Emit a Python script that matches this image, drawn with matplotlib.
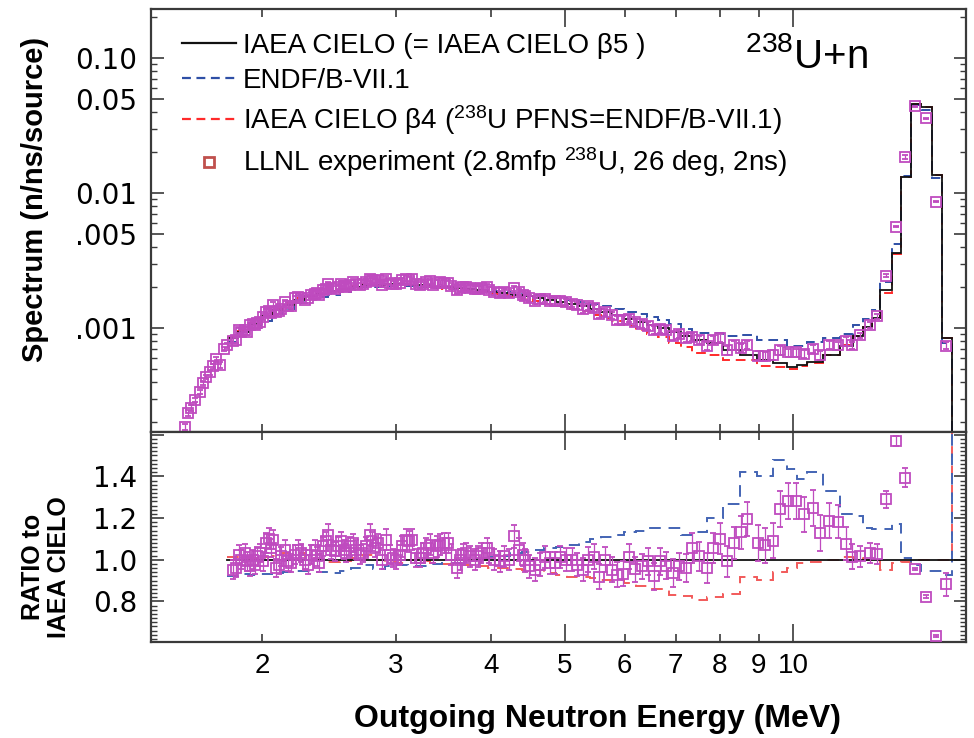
import numpy as np
import matplotlib
matplotlib.use('Agg')
import matplotlib.pyplot as plt
from matplotlib.ticker import FixedLocator, FuncFormatter, MultipleLocator, LogLocator, NullFormatter
from matplotlib.lines import Line2D

plt.rcParams['font.family'] = ['Liberation Sans', 'DejaVu Sans']
plt.rcParams['mathtext.fontset'] = 'custom'
plt.rcParams['mathtext.rm'] = 'Liberation Sans'
plt.rcParams['mathtext.it'] = 'Liberation Sans:italic'
plt.rcParams['mathtext.bf'] = 'Liberation Sans:bold'

# model histogram bin edges (MeV)
edges = [1.80, 1.86, 1.92, 1.99, 2.06, 2.13, 2.20, 2.28, 2.36, 2.44,
         2.53, 2.62, 2.71, 2.80, 2.90, 3.00, 3.11, 3.22, 3.33, 3.45,
         3.57, 3.69, 3.82, 3.96, 4.10, 4.24, 4.39, 4.54, 4.70, 4.87,
         5.04, 5.22, 5.40, 5.59, 5.78, 5.99, 6.20, 6.41, 6.64, 6.87,
         7.11, 7.36, 7.69, 8.08, 8.51, 8.96, 9.40, 9.81, 10.11, 10.42,
         10.94, 11.52, 11.98, 12.35, 12.69, 13.00, 13.48, 13.86, 14.28, 14.72,
         15.22, 15.69, 16.17]

# IAEA CIELO spectrum (n/ns/source)
cielo = [8.5e-4, 9.4e-4, 1.08e-3, 1.22e-3, 1.36e-3, 1.48e-3, 1.62e-3, 1.72e-3, 1.80e-3, 1.88e-3,
         1.96e-3, 2.02e-3, 2.07e-3, 2.10e-3, 2.12e-3, 2.12e-3, 2.10e-3, 2.07e-3, 2.03e-3, 2.00e-3,
         1.98e-3, 1.95e-3, 1.91e-3, 1.86e-3, 1.82e-3, 1.77e-3, 1.72e-3, 1.67e-3, 1.62e-3, 1.57e-3,
         1.51e-3, 1.45e-3, 1.38e-3, 1.31e-3, 1.24e-3, 1.16e-3, 1.11e-3, 1.05e-3, 1.00e-3, 9.4e-4,
         8.8e-4, 8.1e-4, 7.7e-4, 6.9e-4, 6.3e-4, 5.8e-4, 5.5e-4, 5.15e-4, 5.3e-4, 5.6e-4,
         6.3e-4, 7.4e-4, 8.7e-4, 1.02e-3, 1.19e-3, 1.9e-3, 3.6e-3, 1.32e-2, 4.6e-2, 4.35e-2,
         1.36e-2, 8.4e-4]

# ENDF/B-VII.1 / CIELO
ratio_endf = [0.923, 0.930, 0.925, 0.930, 0.935, 0.942, 0.947, 0.947, 0.940, 0.935,
              0.945, 0.960, 0.975, 0.955, 0.968, 0.975, 0.970, 0.972, 0.978, 0.985,
              0.986, 0.995, 1.005, 1.015, 1.020, 1.030, 1.035, 1.045, 1.055, 1.063,
              1.072, 1.085, 1.100, 1.110, 1.120, 1.135, 1.140, 1.150, 1.150, 1.150,
              1.120, 1.135, 1.200, 1.265, 1.420, 1.400, 1.480, 1.434, 1.385, 1.420,
              1.330, 1.217, 1.209, 1.150, 1.148, 1.148, 1.169, 1.008, 0.976, 0.947,
              0.944, 0.928]

# CIELO beta4 / CIELO
ratio_b4 = [1.014, 1.014, 1.010, 1.014, 1.020, 1.030, 1.030, 1.010, 1.000, 0.990,
            0.995, 1.010, 1.024, 1.000, 0.990, 0.986, 1.000, 0.995, 0.986, 0.980,
            0.976, 0.976, 0.970, 0.960, 0.960, 0.955, 0.952, 0.952, 0.935, 0.928,
            0.918, 0.918, 0.910, 0.904, 0.904, 0.890, 0.875, 0.860, 0.860, 0.830,
            0.827, 0.807, 0.820, 0.835, 0.918, 0.904, 0.942, 0.960, 0.986, 0.990,
            1.000, 1.014, 1.010, 1.000, 1.000, 0.952, 0.985, 0.990, 1.000, 1.000,
            1.000, 1.000]

# LLNL experiment below the model range (top panel only)
low_e = [1.581, 1.597, 1.614, 1.630, 1.655, 1.672, 1.689, 1.706, 1.723, 1.741, 1.758, 1.780, 1.800]
low_s = [1.85e-4, 2.35e-4, 2.55e-4, 2.93e-4, 3.36e-4, 3.92e-4, 4.34e-4, 4.72e-4, 5.23e-4, 5.89e-4,
         5.3e-4, 6.99e-4, 7.48e-4]
low_err = [0.05, 0.05, 0.05, 0.04, 0.04, 0.04, 0.04, 0.04, 0.04, 0.04, 0.05, 0.04, 0.04]

# LLNL experiment: energy, ratio to CIELO, ratio uncertainty
exp_e = [1.830, 1.850, 1.865, 1.878, 1.897, 1.910, 1.925, 1.945, 1.956, 1.966,
         1.985, 2.005, 2.026, 2.042, 2.057, 2.067, 2.088, 2.105, 2.120, 2.141,
         2.163, 2.185, 2.207, 2.230, 2.253, 2.275, 2.298, 2.322, 2.346, 2.362,
         2.376, 2.405, 2.430, 2.442, 2.467, 2.492, 2.517, 2.543, 2.561, 2.582,
         2.608, 2.634, 2.661, 2.688, 2.715, 2.743, 2.770, 2.793, 2.813, 2.841,
         2.879, 2.914, 2.943, 2.973, 3.004, 3.034, 3.059, 3.090, 3.121, 3.153,
         3.192, 3.224, 3.256, 3.289, 3.322, 3.356, 3.397, 3.432, 3.467, 3.512,
         3.549, 3.604, 3.639, 3.676, 3.713, 3.759, 3.808, 3.847, 3.887, 3.947,
         3.976, 4.037, 4.109, 4.159, 4.227, 4.288, 4.357, 4.403, 4.433, 4.492,
         4.570, 4.640, 4.711, 4.783, 4.856, 4.930, 5.020, 5.108, 5.195, 5.281,
         5.371, 5.464, 5.554, 5.648, 5.767, 5.868, 5.970, 6.081, 6.187, 6.314,
         6.441, 6.553, 6.674, 6.796, 6.935, 7.076, 7.221, 7.362, 7.519, 7.690,
         7.845, 8.002, 8.166, 8.349, 8.531, 8.695, 8.976, 9.167, 9.393, 9.610,
         9.843, 10.09, 10.32, 10.60, 10.85, 11.14, 11.43, 11.73, 11.95, 12.25,
         12.60, 12.90, 13.24, 13.65, 14.03, 14.46, 14.95, 15.41, 15.88]
exp_ratio = [0.952, 0.960, 1.024, 1.000, 1.032, 0.992, 0.968, 1.000, 0.976, 1.016,
             1.032, 0.992, 1.080, 1.100, 1.056, 1.096, 0.960, 0.976, 1.016, 1.048,
             0.992, 0.984, 1.024, 1.048, 1.032, 1.000, 0.976, 1.024, 1.048, 1.016,
             0.984, 1.064, 1.088, 1.120, 1.048, 1.040, 1.064, 1.088, 1.048, 1.032,
             1.064, 1.080, 1.048, 1.024, 1.032, 1.064, 1.120, 1.088, 1.056, 1.080,
             1.000, 1.096, 1.024, 1.008, 1.000, 1.024, 1.064, 1.096, 1.088, 1.096,
             1.008, 1.008, 1.032, 1.056, 1.072, 1.032, 1.064, 1.072, 1.080, 1.080,
             1.024, 0.960, 1.000, 1.024, 1.032, 1.016, 1.000, 1.016, 1.032, 1.056,
             1.032, 1.000, 0.992, 1.016, 1.000, 1.112, 1.048, 1.024, 0.997, 0.968,
             0.952, 0.976, 1.013, 0.984, 0.984, 1.013, 1.000, 1.000, 0.976, 0.952,
             1.000, 1.013, 0.917, 1.000, 0.952, 0.928, 0.932, 1.013, 0.955, 0.968,
             0.992, 0.920, 0.992, 0.971, 0.936, 0.968, 0.960, 1.056, 1.016, 0.960,
             1.056, 1.100, 0.992, 1.080, 1.132, 1.196, 1.080, 1.069, 1.092, 1.244,
             1.281, 1.281, 1.217, 1.249, 1.129, 1.188, 1.182, 1.077, 1.013, 1.016,
             1.032, 1.027, 1.289, 1.570, 1.394, 0.955, 0.823, 0.634, 0.883]
exp_err = [0.045, 0.045, 0.045, 0.045, 0.045, 0.045, 0.045, 0.045, 0.045, 0.045,
           0.045, 0.045, 0.050, 0.050, 0.045, 0.045, 0.045, 0.045, 0.045, 0.045,
           0.045, 0.045, 0.045, 0.045, 0.045, 0.045, 0.045, 0.045, 0.045, 0.045,
           0.045, 0.045, 0.045, 0.050, 0.045, 0.045, 0.045, 0.045, 0.045, 0.045,
           0.045, 0.045, 0.045, 0.045, 0.045, 0.045, 0.050, 0.045, 0.045, 0.045,
           0.045, 0.050, 0.045, 0.045, 0.045, 0.045, 0.050, 0.050, 0.050, 0.050,
           0.045, 0.045, 0.050, 0.050, 0.050, 0.050, 0.050, 0.050, 0.050, 0.050,
           0.050, 0.050, 0.050, 0.050, 0.050, 0.050, 0.050, 0.050, 0.050, 0.050,
           0.050, 0.050, 0.050, 0.050, 0.050, 0.055, 0.055, 0.055, 0.055, 0.055,
           0.055, 0.055, 0.055, 0.055, 0.055, 0.055, 0.055, 0.055, 0.055, 0.055,
           0.060, 0.060, 0.060, 0.060, 0.060, 0.060, 0.060, 0.060, 0.060, 0.060,
           0.065, 0.065, 0.065, 0.065, 0.065, 0.065, 0.065, 0.070, 0.070, 0.070,
           0.070, 0.075, 0.075, 0.075, 0.080, 0.080, 0.085, 0.085, 0.085, 0.085,
           0.085, 0.085, 0.085, 0.085, 0.085, 0.085, 0.080, 0.080, 0.060, 0.050,
           0.050, 0.050, 0.040, 0.025, 0.045, 0.006, 0.006, 0.006, 0.055]

c_black = '#111111'
c_blue = '#2E4FA6'
c_red = '#FF2A2A'
c_exp = '#BF4BBF'
c_frame = '#3A3A3A'

edges = np.array(edges)
cielo = np.array(cielo)
endf = cielo * np.array(ratio_endf)
beta4 = cielo * np.array(ratio_b4)

idx = np.searchsorted(edges, exp_e, side='right') - 1
exp_top = cielo[idx] * np.array(exp_ratio)
top_e = np.concatenate([low_e, exp_e])
top_s = np.concatenate([low_s, exp_top])
top_err = top_s * np.concatenate([low_err, np.array(exp_err) / np.array(exp_ratio)])

fig = plt.figure(figsize=(9.74, 7.38), dpi=100)
ax1 = fig.add_axes([0.1550, 0.4146, 0.8368, 0.5732])
ax2 = fig.add_axes([0.1550, 0.1301, 0.8368, 0.2846], sharex=ax1)

# top panel: spectra
e_ext = np.append(edges, 16.9)
ax1.stairs(np.append(beta4, 1e-9), e_ext, baseline=None, color=c_red, lw=1.4, ls=(0, (5, 3)), zorder=2)
ax1.stairs(np.append(endf, 1e-9), e_ext, baseline=None, color=c_blue, lw=1.4, ls=(0, (5, 3)), zorder=2)
ax1.stairs(np.append(cielo, 1e-9), e_ext, baseline=None, color=c_black, lw=1.3, zorder=3)
ax1.errorbar(top_e, top_s, yerr=top_err, fmt='s', ms=6.5, mfc='none', mec=c_exp, mew=1.3,
             ecolor=c_exp, elinewidth=0.9, capsize=2, zorder=4)

ax1.set_xscale('log')
ax1.set_yscale('log')
ax1.set_xlim(1.428, 16.87)
ax1.set_ylim(1.70e-4, 0.2306)

ax1.yaxis.set_major_locator(FixedLocator([1e-3, 5e-3, 1e-2, 5e-2, 1e-1]))
ax1.yaxis.set_major_formatter(FuncFormatter(
    lambda y, p: {1e-3: '.001', 5e-3: '.005', 1e-2: '0.01', 5e-2: '0.05', 1e-1: '0.10'}.get(round(y, 6), '')))
ax1.yaxis.set_minor_locator(LogLocator(base=10, subs=np.arange(2, 10), numticks=20))
ax1.yaxis.set_minor_formatter(NullFormatter())

# bottom panel: ratios
ax2.stairs(np.append(ratio_b4, 3.0), e_ext, baseline=None, color='#F25A5A', lw=1.4, ls=(0, (6, 4)), zorder=2)
ax2.stairs(np.append(ratio_endf, 3.0), e_ext, baseline=None, color='#4364B4', lw=1.4, ls=(0, (6, 4)), zorder=2)
ax2.plot([edges[0], 16.87], [1.0, 1.0], color=c_black, lw=1.3, zorder=3)
ax2.errorbar(exp_e, exp_ratio, yerr=exp_err, fmt='s', ms=6.5, mfc='none', mec=c_exp, mew=1.3,
             ecolor=c_exp, elinewidth=0.9, capsize=2, zorder=4)
ax2.set_ylim(0.605, 1.613)
ax2.yaxis.set_major_locator(FixedLocator([0.8, 1.0, 1.2, 1.4, 1.6]))
ax2.yaxis.set_major_formatter(FuncFormatter(lambda y, p: '' if y > 1.5 else f'{y:.1f}'))
ax2.yaxis.set_minor_locator(MultipleLocator(0.02))

# x ticks: long at 5 and 10
ax2.xaxis.set_major_locator(FixedLocator([5, 10]))
ax2.xaxis.set_minor_locator(FixedLocator([2, 3, 4, 6, 7, 8, 9]))
ax2.xaxis.set_major_formatter(FuncFormatter(lambda x, p: f'{x:g}'))
ax2.xaxis.set_minor_formatter(FuncFormatter(lambda x, p: f'{x:g}'))

for ax in (ax1, ax2):
    for sp in ax.spines.values():
        sp.set_color(c_frame)
        sp.set_linewidth(1.6)
    ax.tick_params(which='both', direction='in', top=True, right=True, color=c_frame)
    ax.tick_params(axis='x', which='major', length=13, width=1.2)
    ax.tick_params(axis='x', which='minor', length=6, width=1.2)
    ax.tick_params(axis='y', which='major', length=9, width=1.2, labelsize=20, pad=10)
    ax.tick_params(axis='y', which='minor', length=4.5, width=1.0)
    for lab in ax.get_yticklabels():
        lab.set_fontfamily('DejaVu Sans')

ax1.tick_params(axis='x', which='both', labelbottom=False)
ax2.tick_params(axis='x', which='both', labelsize=20, pad=8)

# legend
handles = [Line2D([], [], color=c_black, lw=1.6),
           Line2D([], [], color=c_blue, lw=1.6, ls=(0, (4, 2.5))),
           Line2D([], [], color=c_red, lw=1.6, ls=(0, (4, 2.5))),
           Line2D([], [], ls='none', marker='s', ms=7, mfc='none', mec='#C0504D', mew=2)]
labels = ['IAEA CIELO (= IAEA CIELO \u03b25 )',
          'ENDF/B-VII.1',
          'IAEA CIELO \u03b24 ($^{238}$U PFNS=ENDF/B-VII.1)',
          'LLNL experiment (2.8mfp $^{238}$U, 26 deg, 2ns)']
fig.legend(handles, labels, loc='upper left', bbox_to_anchor=(182 / 974, 1 - 33 / 738),
           frameon=False, fontsize=20, handlelength=1.95, handletextpad=0.25,
           labelspacing=0.32, borderpad=0, borderaxespad=0)

fig.text(745 / 974, 1 - 57 / 738, r'$^{238}$U+n', fontsize=29, ha='left', va='center')

fig.text(35 / 974, 1 - 199 / 738, 'Spectrum (n/ns/source)', rotation=90, fontsize=21,
         fontweight='bold', ha='center', va='center')
fig.text(46 / 974, 1 - 567 / 738, 'RATIO to\nIAEA CIELO', rotation=90, fontsize=18,
         fontweight='bold', ha='center', va='center', multialignment='center', linespacing=1.15,
         family=['Liberation Sans Narrow', 'Liberation Sans'])
fig.text(598 / 974, 1 - 719 / 738, 'Outgoing Neutron Energy (MeV)', fontsize=23,
         fontweight='bold', ha='center', va='center')

fig.savefig('out.png', dpi=100)
